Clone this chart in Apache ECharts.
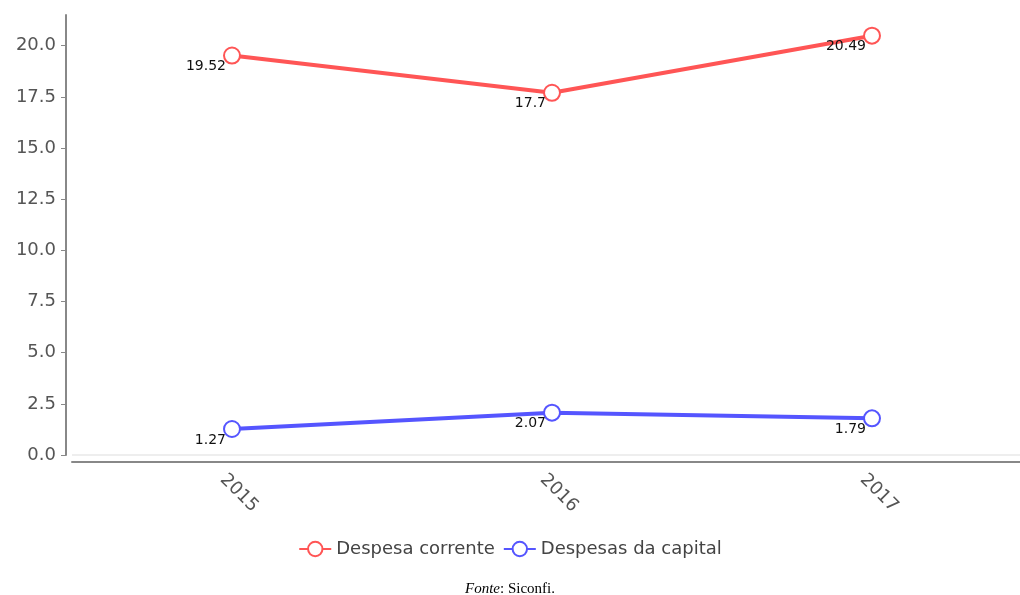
<!DOCTYPE html>
<html>
<head>
<meta charset="utf-8">
<script src="https://cdn.jsdelivr.net/npm/echarts@6/dist/echarts.min.js"></script>
<style>
  html, body { margin: 0; padding: 0; background: #fff; }
  #chart { width: 1020px; height: 595px; }
</style>
</head>
<body>
<div id="chart"></div>
<script>
// dados
var anos = ["2015", "2016", "2017"];
var despesaCorrente = [19.52, 17.7, 20.49];
var despesasCapital = [1.27, 2.07, 1.79];
var yTicks = [0, 2.5, 5, 7.5, 10, 12.5, 15, 17.5, 20];

var myChart = echarts.init(document.getElementById("chart"));
var labelStyle = {
  show: true,
  position: "left",
  distance: 0,
  offset: [3, 11],
  color: "#111",
  fontSize: 14,
  fontFamily: "DejaVu Sans"
};
var option = {
  animation: false,
  textStyle: { fontFamily: "DejaVu Sans" },
  title: {
    text: "{i|Fonte}{n|: Siconfi.}",
    left: "center",
    top: 577,
    textStyle: {
      fontWeight: "normal",
      rich: {
        i: { fontFamily: "Liberation Serif", fontStyle: "italic", fontWeight: "normal", fontSize: 15, color: "#000" },
        n: { fontFamily: "Liberation Serif", fontWeight: "normal", fontSize: 15, color: "#000" }
      }
    }
  },
  legend: {
    bottom: 32,
    left: "center",
    itemGap: 8,
    itemWidth: 32,
    itemHeight: 18,
    textStyle: { fontSize: 18, color: "#444", fontFamily: "DejaVu Sans" },
    data: ["Despesa corrente", "Despesas da capital"]
  },
  grid: {
    left: 72,
    right: -12,
    top: 15,
    bottom: 140,
    outerBoundsMode: "none"
  },
  xAxis: {
    type: "category",
    data: anos,
    offset: 7,
    axisLine: { onZero: false, lineStyle: { color: "#888", width: 2 } },
    axisTick: { show: false },
    axisLabel: {
      rotate: -45,
      align: "center",
      verticalAlign: "middle",
      margin: 24,
      padding: [0, 0, 0, 20],
      fontSize: 18,
      color: "#555"
    }
  },
  yAxis: {
    type: "value",
    min: 0,
    max: 21.5,
    interval: 2.5,
    offset: 6,
    axisLine: { show: true, onZero: false, lineStyle: { color: "#888", width: 2 } },
    axisTick: { show: true, length: 5, customValues: yTicks, lineStyle: { color: "#888" } },
    axisLabel: {
      customValues: yTicks,
      formatter: function (v) { return v.toFixed(1); },
      fontSize: 18,
      color: "#555",
      margin: 10
    },
    splitLine: { show: false }
  },
  series: [
    {
      name: "Despesa corrente",
      type: "line",
      data: despesaCorrente,
      color: "#ff5555",
      symbol: "emptyCircle",
      symbolSize: 16,
      lineStyle: { width: 4 },
      itemStyle: { borderWidth: 3 },
      label: labelStyle
    },
    {
      name: "Despesas da capital",
      type: "line",
      data: despesasCapital,
      color: "#5555ff",
      symbol: "emptyCircle",
      symbolSize: 16,
      lineStyle: { width: 4 },
      itemStyle: { borderWidth: 3 },
      label: labelStyle,
      markLine: {
        silent: true,
        symbol: "none",
        label: { show: false },
        lineStyle: { color: "#eeeeee", width: 2, type: "solid" },
        data: [{ yAxis: 0 }]
      }
    }
  ]
};
myChart.setOption(option);
</script>
</body>
</html>
